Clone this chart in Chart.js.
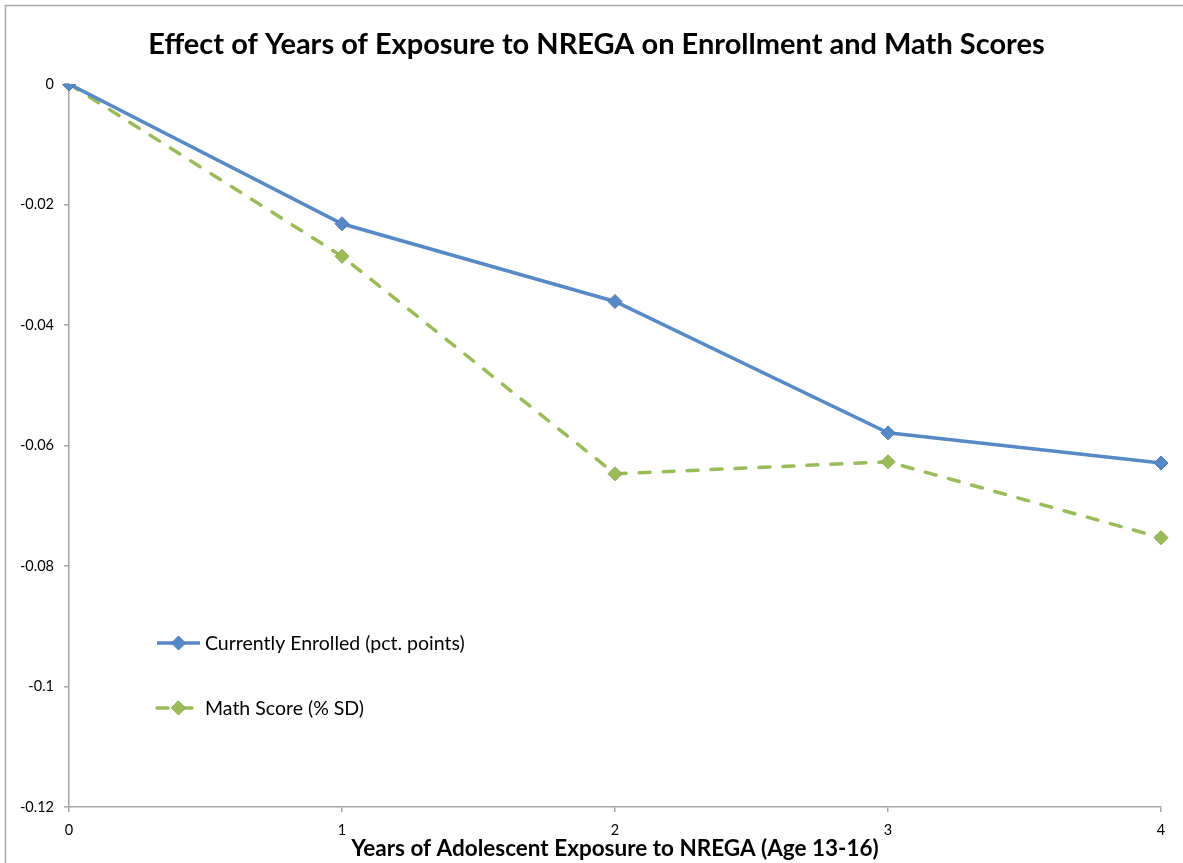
<!DOCTYPE html>
<html>
<head>
<meta charset="utf-8">
<script src="https://cdn.jsdelivr.net/npm/chart.js@4/dist/chart.umd.min.js"></script>
<style>
  html, body { margin: 0; padding: 0; background: #ffffff; }
  #wrap { width: 1183px; height: 863px; position: relative; }
</style>
</head>
<body>
<div id="wrap"><canvas id="chart" width="1183" height="863"></canvas></div>
<script>
// Years of exposure (x categories)
const years = ['0', '1', '2', '3', '4'];
// Effect on current enrollment (pct. points)
const enrolled = [0, -0.0232, -0.0361, -0.0579, -0.0629];
// Effect on math score (% SD)
const mathScore = [0, -0.0286, -0.0647, -0.0627, -0.0753];
// Y-axis tick values and their labels
const yTickValues = [-0.12, -0.1, -0.08, -0.06, -0.04, -0.02, 0];
const yTickLabels = ['-0.12', '-0.1', '-0.08', '-0.06', '-0.04', '-0.02', '0'];

const seriesNames = ['Currently Enrolled (pct. points)', 'Math Score (% SD)'];
const chartTitle = 'Effect of Years of Exposure to NREGA on Enrollment and Math Scores';

const BLUE = '#5689C6';
const GREEN = '#9BBB59';
const FONT = 'Lato, "Liberation Sans", sans-serif';
const AXIS = '#a6a6a6';

// Thin frame along the top and left of the canvas
const framePlugin = {
  id: 'frame',
  beforeDraw(chart) {
    const ctx = chart.ctx;
    ctx.save();
    ctx.strokeStyle = '#a9a9a9';
    ctx.lineWidth = 1.5;
    ctx.beginPath();
    ctx.moveTo(5.5, chart.height + 5);
    ctx.lineTo(5.5, 5.5);
    ctx.lineTo(chart.width + 5, 5.5);
    ctx.stroke();
    ctx.restore();
  }
};

// Chart heading, centred on the whole canvas
const headingPlugin = {
  id: 'heading',
  afterDraw(chart, args, opts) {
    const ctx = chart.ctx;
    ctx.save();
    ctx.fillStyle = '#000000';
    ctx.font = 'bold ' + opts.size + 'px ' + FONT;
    ctx.textAlign = 'center';
    ctx.textBaseline = 'middle';
    ctx.fillText(opts.text, chart.width / 2 + opts.shiftX, opts.y);
    ctx.restore();
  }
};

// Legend drawn inside the plot area, one row per series
const innerLegend = {
  id: 'innerLegend',
  afterDatasetsDraw(chart, args, opts) {
    const ctx = chart.ctx;
    const area = chart.chartArea;
    ctx.save();
    chart.data.datasets.forEach((ds, i) => {
      const x0 = area.left + opts.offsetX;
      const y = area.top + opts.offsetY + i * opts.rowGap;
      const x1 = x0 + opts.lineLen;
      ctx.strokeStyle = ds.borderColor;
      ctx.lineWidth = ds.borderWidth;
      ctx.lineCap = ds.borderCapStyle || 'butt';
      ctx.setLineDash(ds.borderDash || []);
      ctx.beginPath();
      ctx.moveTo(x0 + 2, y);
      ctx.lineTo(x1 - 2, y);
      ctx.stroke();
      ctx.setLineDash([]);
      const cx = (x0 + x1) / 2;
      const r = ds.pointRadius;
      ctx.fillStyle = ds.pointBackgroundColor;
      ctx.strokeStyle = ds.pointBorderColor;
      ctx.lineWidth = 1;
      ctx.beginPath();
      ctx.moveTo(cx, y - r);
      ctx.lineTo(cx + r, y);
      ctx.lineTo(cx, y + r);
      ctx.lineTo(cx - r, y);
      ctx.closePath();
      ctx.fill();
      ctx.stroke();
      ctx.fillStyle = '#000000';
      ctx.font = '19.5px ' + FONT;
      ctx.textBaseline = 'middle';
      ctx.textAlign = 'left';
      ctx.fillText(ds.label, x1 + 3, y + 1);
    });
    ctx.restore();
  }
};

new Chart(document.getElementById('chart'), {
  type: 'line',
  data: {
    labels: years,
    datasets: [
      {
        label: seriesNames[0],
        data: enrolled,
        borderColor: BLUE,
        backgroundColor: BLUE,
        borderWidth: 3.5,
        pointStyle: 'rectRot',
        pointRadius: 7,
        pointBackgroundColor: BLUE,
        pointBorderColor: '#4a78b0',
        pointBorderWidth: 1,
        tension: 0,
        fill: false
      },
      {
        label: seriesNames[1],
        data: mathScore,
        borderColor: GREEN,
        backgroundColor: GREEN,
        borderWidth: 3.5,
        borderDash: [11, 13],
        borderCapStyle: 'round',
        pointStyle: 'rectRot',
        pointRadius: 7,
        pointBackgroundColor: GREEN,
        pointBorderColor: '#89a74c',
        pointBorderWidth: 1,
        tension: 0,
        fill: false
      }
    ]
  },
  options: {
    responsive: false,
    animation: false,
    layout: { padding: { top: 84, left: 0, right: 22, bottom: 0 } },
    plugins: {
      legend: { display: false },
      tooltip: { enabled: false },
      title: { display: false },
      heading: { text: chartTitle, size: 29, y: 45, shiftX: 5 },
      innerLegend: { offsetX: 86, offsetY: 559, rowGap: 65, lineLen: 47 }
    },
    scales: {
      x: {
        type: 'category',
        offset: false,
        grid: { display: true, drawOnChartArea: false, tickLength: 5, color: AXIS, lineWidth: 1.5 },
        border: { display: true, color: AXIS, width: 1.5 },
        ticks: { color: '#000000', font: { family: FONT, size: 14.5 }, padding: 10, maxRotation: 0 },
        title: {
          display: true,
          text: 'Years of Adolescent Exposure to NREGA (Age 13-16)',
          color: '#000000',
          font: { family: FONT, size: 22.5, weight: 'bold', lineHeight: 1.2 },
          padding: { top: 0, bottom: 1 }
        },
        afterFit(scale) { scale.height = 56; }
      },
      y: {
        type: 'linear',
        min: -0.12,
        max: 0,
        afterBuildTicks(scale) { scale.ticks = yTickValues.map(v => ({ value: v })); },
        grid: { display: true, drawOnChartArea: false, tickLength: 5, color: AXIS, lineWidth: 1.5 },
        border: { display: true, color: AXIS, width: 1.5 },
        ticks: {
          color: '#000000',
          font: { family: FONT, size: 14.5 },
          padding: 10,
          callback: (v, i) => yTickLabels[i]
        },
        afterFit(scale) { scale.width = 69; }
      }
    }
  },
  plugins: [framePlugin, headingPlugin, innerLegend]
});
</script>
</body>
</html>
